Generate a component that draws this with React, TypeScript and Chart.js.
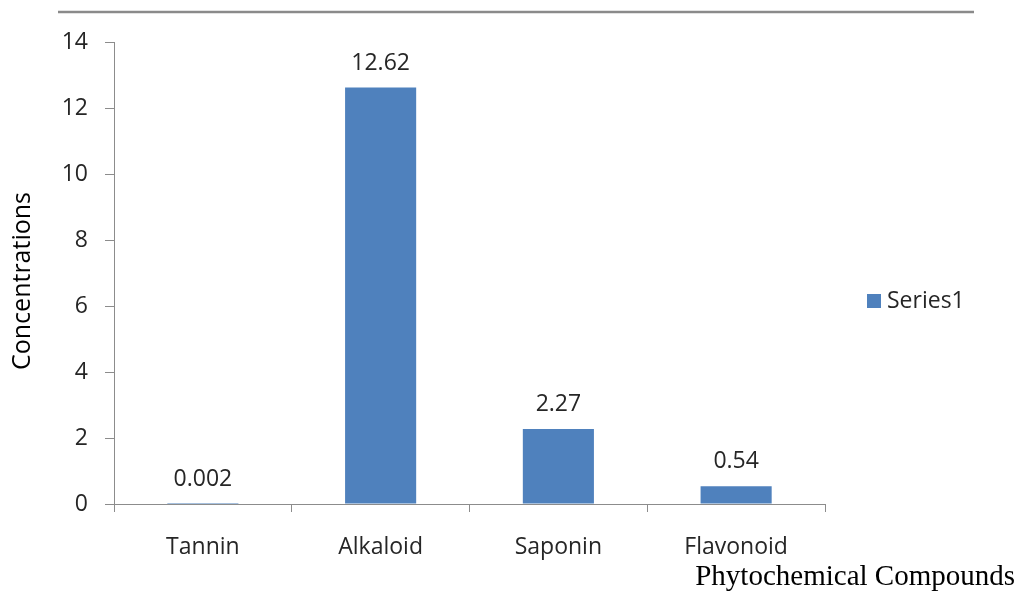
import React, { useEffect, useRef } from "react";
import { Chart, registerables } from "chart.js";

Chart.register(...registerables);

const categories = ["Tannin", "Alkaloid", "Saponin", "Flavonoid"];
const concentrations = [0.002, 12.62, 2.27, 0.54];
const valueLabels = ["0.002", "12.62", "2.27", "0.54"];
const seriesName = "Series1";
const yTitle = "Concentrations";
const xTitle = "Phytochemical Compounds";
const yMin = 0;
const yMax = 14;
const yStep = 2;

const BAR_COLOR = "#4f81bd";
const TEXT_COLOR = "#262626";
const AXIS_COLOR = "#8c8c8c";
const SANS = "'Open Sans', 'Noto Sans', sans-serif";

// Extra drawing: rule across the top, value labels, legend and both titles.
const decorations = {
  id: "decorations",
  afterDatasetsDraw(chart: any) {
    const ctx = chart.ctx as CanvasRenderingContext2D;
    const area = chart.chartArea;
    ctx.save();

    // horizontal rule above the plot
    ctx.strokeStyle = "#8a8a8a";
    ctx.lineWidth = 2.5;
    ctx.beginPath();
    ctx.moveTo(58, 12);
    ctx.lineTo(974, 12);
    ctx.stroke();

    // value labels above each bar
    const meta = chart.getDatasetMeta(0);
    ctx.fillStyle = TEXT_COLOR;
    ctx.font = `23px ${SANS}`;
    ctx.textAlign = "center";
    ctx.textBaseline = "alphabetic";
    meta.data.forEach((bar: any, i: number) => {
      ctx.fillText(valueLabels[i], bar.x, bar.y - 18);
    });

    // legend
    ctx.fillStyle = BAR_COLOR;
    ctx.fillRect(867, 294, 14, 14);
    ctx.fillStyle = TEXT_COLOR;
    ctx.font = `23px ${SANS}`;
    ctx.textAlign = "left";
    ctx.textBaseline = "middle";
    ctx.fillText(seriesName, 887, 301);

    // y title, rotated
    ctx.save();
    ctx.translate(23, (area.top + area.bottom) / 2 + 8);
    ctx.rotate(-Math.PI / 2);
    ctx.fillStyle = "#000000";
    ctx.font = `25px ${SANS}`;
    ctx.textAlign = "center";
    ctx.textBaseline = "middle";
    ctx.fillText(yTitle, 0, 0);
    ctx.restore();

    // x title in serif face
    ctx.fillStyle = "#000000";
    ctx.font = "29px 'Liberation Serif', 'DejaVu Serif', serif";
    ctx.textAlign = "right";
    ctx.textBaseline = "alphabetic";
    ctx.fillText(xTitle, 1015, 585);

    ctx.restore();
  },
};

export default function App() {
  const canvasRef = useRef<HTMLCanvasElement | null>(null);

  useEffect(() => {
    if (!canvasRef.current) return;
    const chart = new Chart(canvasRef.current, {
      type: "bar",
      data: {
        labels: categories,
        datasets: [
          {
            label: seriesName,
            data: concentrations,
            backgroundColor: BAR_COLOR,
            borderWidth: 0,
            barPercentage: 0.4,
            categoryPercentage: 1,
          },
        ],
      },
      options: {
        animation: false,
        responsive: false,
        maintainAspectRatio: false,
        layout: { padding: { top: 42, right: 193, bottom: 0, left: 0 } },
        plugins: {
          legend: { display: false },
          tooltip: { enabled: false },
        },
        scales: {
          x: {
            offset: true,
            grid: {
              display: true,
              offset: true,
              drawOnChartArea: false,
              drawTicks: true,
              tickLength: 8,
              color: AXIS_COLOR,
            },
            border: { color: AXIS_COLOR, width: 1 },
            ticks: {
              color: TEXT_COLOR,
              font: { family: SANS, size: 23 },
              padding: 22,
              maxRotation: 0,
            },
            afterFit(scale: any) {
              scale.height = 88;
            },
          },
          y: {
            min: yMin,
            max: yMax,
            grid: {
              display: true,
              drawOnChartArea: false,
              drawTicks: true,
              tickLength: 9,
              color: AXIS_COLOR,
            },
            border: { color: AXIS_COLOR, width: 1 },
            ticks: {
              stepSize: yStep,
              color: TEXT_COLOR,
              font: { family: SANS, size: 23 },
              padding: 17,
            },
            afterFit(scale: any) {
              scale.width = 114;
            },
          },
        },
      },
      plugins: [decorations],
    });
    return () => chart.destroy();
  }, []);

  return (
    <div style={{ position: "absolute", left: 0, top: 0, width: 1018, height: 592, background: "#ffffff" }}>
      <canvas ref={canvasRef} width={1018} height={592} style={{ display: "block" }} />
    </div>
  );
}
